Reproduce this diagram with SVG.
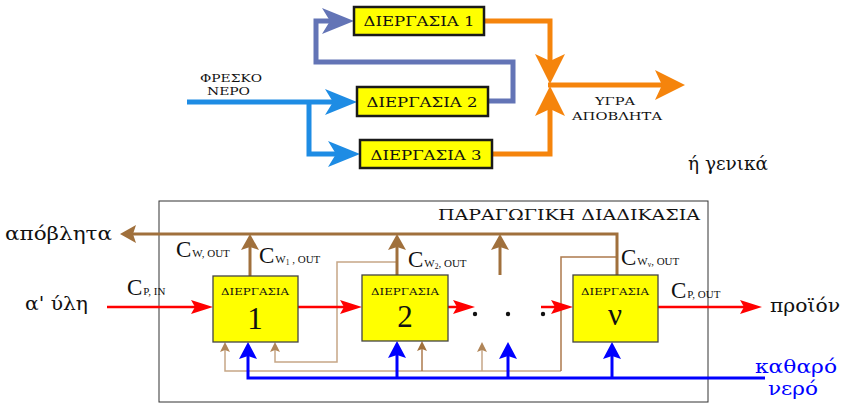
<svg xmlns="http://www.w3.org/2000/svg" width="843" height="405" viewBox="0 0 843 405">
<style>
text{font-family:"Liberation Serif","DejaVu Serif",serif;fill:#111}
.gr{font-family:"DejaVu Serif","Liberation Serif",serif}
.tb{fill:#ffff00;stroke:#1a1a1a;stroke-width:2.5}
.bb{fill:#ffff00;stroke:#444;stroke-width:1.3}
.tl{font-size:13px;text-anchor:middle}
.sm{font-size:11px}
.big{font-size:19px}
.c{font-size:23px}
.sub{font-size:11px}
.sub2{font-size:7.5px}
.bl{font-size:9.5px;text-anchor:middle}
.num{font-size:31px;text-anchor:middle}
.fresh{fill:none;stroke:#1e8ce4;stroke-width:5}
.slate{fill:none;stroke:#6374b6;stroke-width:5}
.org{fill:none;stroke:#f5840c;stroke-width:5}
.brn{fill:none;stroke:#a0703c;stroke-width:3}
.red{fill:none;stroke:#ff0000;stroke-width:2.5}
.blu{fill:none;stroke:#0000ff;stroke-width:3}
.tan{fill:none;stroke:#c6a687;stroke-width:1.5}
.tan2{fill:none;stroke:#ad7a4c;stroke-width:1.5}
</style>
<defs>
<marker id="mFresh" markerUnits="userSpaceOnUse" orient="auto" overflow="visible" markerWidth="1" markerHeight="1"><path d="M24,0 L-8,-13 L0,0 L-8,13 Z" fill="#1e8ce4"/></marker>
<marker id="mSlate" markerUnits="userSpaceOnUse" orient="auto" overflow="visible" markerWidth="1" markerHeight="1"><path d="M24,0 L-8,-13 L0,0 L-8,13 Z" fill="#6374b6"/></marker>
<marker id="mOrg" markerUnits="userSpaceOnUse" orient="auto" overflow="visible" markerWidth="1" markerHeight="1"><path d="M23,0 L-7,-15 L0,0 L-7,15 Z" fill="#f5840c"/></marker>
<marker id="mBrn" markerUnits="userSpaceOnUse" orient="auto" overflow="visible" markerWidth="1" markerHeight="1"><path d="M13,0 L-3,-9 L0,0 L-3,9 Z" fill="#a0703c"/></marker>
<marker id="mRed" markerUnits="userSpaceOnUse" orient="auto" overflow="visible" markerWidth="1" markerHeight="1"><path d="M18,0 L-4,-7 L0,0 L-4,7 Z" fill="#ff0000"/></marker>
<marker id="mBlu" markerUnits="userSpaceOnUse" orient="auto" overflow="visible" markerWidth="1" markerHeight="1"><path d="M14,0 L-3,-9 L0,0 L-3,9 Z" fill="#0000ff"/></marker>
<marker id="mTan" markerUnits="userSpaceOnUse" orient="auto" overflow="visible" markerWidth="1" markerHeight="1"><path d="M8,0 L-2,-5 L0,0 L-2,5 Z" fill="#b08558"/></marker>
<marker id="mTan2" markerUnits="userSpaceOnUse" orient="auto" overflow="visible" markerWidth="1" markerHeight="1"><path d="M8,0 L-2,-5 L0,0 L-2,5 Z" fill="#a0703c"/></marker>
</defs>

<!-- frame -->
<g id="frame">
<rect x="159" y="201" width="549" height="201" fill="none" stroke="#333" stroke-width="1"/>
<text class="gr" x="438" y="220" font-size="15" textLength="262" lengthAdjust="spacingAndGlyphs">ΠΑΡΑΓΩΓΙΚΗ ΔΙΑΔΙΚΑΣΙΑ</text>
</g>

<!-- connectors -->
<g id="connectors">
<path class="fresh" d="M187,102 H333" marker-end="url(#mFresh)"/>
<path class="fresh" d="M309,102 V154 H336" marker-end="url(#mFresh)"/>
<path class="slate" d="M488,101 H513 V62 H316 V21 H330" marker-end="url(#mSlate)"/>
<path class="org" d="M484,21 H550 V61" marker-end="url(#mOrg)"/>
<path class="org" d="M492,154 H550 V109" marker-end="url(#mOrg)"/>
<path class="org" d="M548,85 H662" marker-end="url(#mOrg)"/>
<path class="tan" d="M397,262 H337 V362 H275 V350" marker-end="url(#mTan)"/>
<path class="tan" d="M561,371 H225 V350" marker-end="url(#mTan)"/>
<path class="tan2" d="M617,257 H561 V371"/>
<path class="tan2" d="M422,371 V349" marker-end="url(#mTan2)"/>
<path class="tan" d="M482,371 V350" marker-end="url(#mTan)"/>
<path class="brn" d="M617,275 V234 H133" marker-end="url(#mBrn)"/>
<path class="brn" d="M250,276 V247" marker-end="url(#mBrn)"/>
<path class="brn" d="M397,275 V247" marker-end="url(#mBrn)"/>
<path class="brn" d="M500,275 V247" marker-end="url(#mBrn)"/>
<path class="red" d="M107,307 H195" marker-end="url(#mRed)"/>
<path class="red" d="M298,307 H344" marker-end="url(#mRed)"/>
<path class="red" d="M448,307 H457" marker-end="url(#mRed)"/>
<path class="red" d="M541,307 H555" marker-end="url(#mRed)"/>
<path class="red" d="M658,307 H744" marker-end="url(#mRed)"/>
<circle cx="475" cy="314" r="2.2" fill="#111"/>
<circle cx="508" cy="314" r="2.2" fill="#111"/>
<circle cx="543" cy="314" r="2.2" fill="#111"/>
<path class="blu" d="M765,378 H248 V356" marker-end="url(#mBlu)"/>
<path class="blu" d="M397,378 V355" marker-end="url(#mBlu)"/>
<path class="blu" d="M508,378 V356" marker-end="url(#mBlu)"/>
<path class="blu" d="M612,378 V356" marker-end="url(#mBlu)"/>
</g>

<!-- top nodes -->
<g id="p1"><rect class="tb" x="354" y="7" width="130" height="28"/><text class="tl gr" x="419" y="26" textLength="111" lengthAdjust="spacingAndGlyphs">ΔΙΕΡΓΑΣΙΑ 1</text></g>
<g id="p2"><rect class="tb" x="357" y="87" width="131" height="29"/><text class="tl gr" x="422" y="107" textLength="111" lengthAdjust="spacingAndGlyphs">ΔΙΕΡΓΑΣΙΑ 2</text></g>
<g id="p3"><rect class="tb" x="360" y="140" width="132" height="28"/><text class="tl gr" x="426" y="160" textLength="111" lengthAdjust="spacingAndGlyphs">ΔΙΕΡΓΑΣΙΑ 3</text></g>

<g id="top-labels">
<text class="sm gr" x="200" y="82" textLength="62" lengthAdjust="spacingAndGlyphs">ΦΡΕΣΚΟ</text>
<text class="sm gr" x="207" y="95" textLength="43" lengthAdjust="spacingAndGlyphs">ΝΕΡΟ</text>
<text class="sm gr" x="595" y="105" textLength="40" lengthAdjust="spacingAndGlyphs">ΥΓΡΑ</text>
<text class="sm gr" x="572" y="120" textLength="90" lengthAdjust="spacingAndGlyphs">ΑΠΟΒΛΗΤΑ</text>
<text class="gr" x="688" y="170" font-size="18" textLength="80" lengthAdjust="spacingAndGlyphs">ή γενικά</text>
</g>

<!-- bottom nodes -->
<g id="b1"><rect class="bb" x="213" y="276" width="85" height="66"/><text class="bl gr" x="255" y="295" textLength="68" lengthAdjust="spacingAndGlyphs">ΔΙΕΡΓΑΣΙΑ</text><text class="num" x="255" y="329">1</text></g>
<g id="b2"><rect class="bb" x="362" y="275" width="86" height="66"/><text class="bl gr" x="405" y="295" textLength="68" lengthAdjust="spacingAndGlyphs">ΔΙΕΡΓΑΣΙΑ</text><text class="num" x="405" y="327">2</text></g>
<g id="bn"><rect class="bb" x="573" y="275" width="85" height="67"/><text class="bl gr" x="615" y="295" textLength="68" lengthAdjust="spacingAndGlyphs">ΔΙΕΡΓΑΣΙΑ</text><text class="num" x="615" y="325" font-size="34">ν</text></g>

<g id="bottom-labels">
<text class="big gr" x="5" y="240" textLength="107" lengthAdjust="spacingAndGlyphs">απόβλητα</text>
<text class="big gr" x="25" y="310" textLength="63" lengthAdjust="spacingAndGlyphs">α' ύλη</text>
<text class="big gr" x="770" y="312" textLength="70" lengthAdjust="spacingAndGlyphs">προϊόν</text>
<text class="big gr" x="755" y="373" style="fill:#0000ff" textLength="82" lengthAdjust="spacingAndGlyphs">καθαρό</text>
<text class="big gr" x="768" y="395" style="fill:#0000ff" textLength="50" lengthAdjust="spacingAndGlyphs">νερό</text>
<text class="c" x="176" y="257">C<tspan class="sub" dx="1">W, OUT</tspan></text>
<text class="c" x="259" y="263">C<tspan class="sub" dx="1">W</tspan><tspan class="sub2" dy="2">1</tspan><tspan class="sub" dy="-2"> , OUT</tspan></text>
<text class="c" x="408" y="267">C<tspan class="sub" dx="1">W</tspan><tspan class="sub2" dy="2">2</tspan><tspan class="sub" dy="-2">, OUT</tspan></text>
<text class="c" x="621" y="265">C<tspan class="sub" dx="1">W</tspan><tspan class="sub2" dy="2">ν</tspan><tspan class="sub" dy="-2">, OUT</tspan></text>
<text class="c" x="127" y="295">C<tspan class="sub" dx="1">P, IN</tspan></text>
<text class="c" x="671" y="298">C<tspan class="sub" dx="1">P, OUT</tspan></text>
</g>
</svg>
